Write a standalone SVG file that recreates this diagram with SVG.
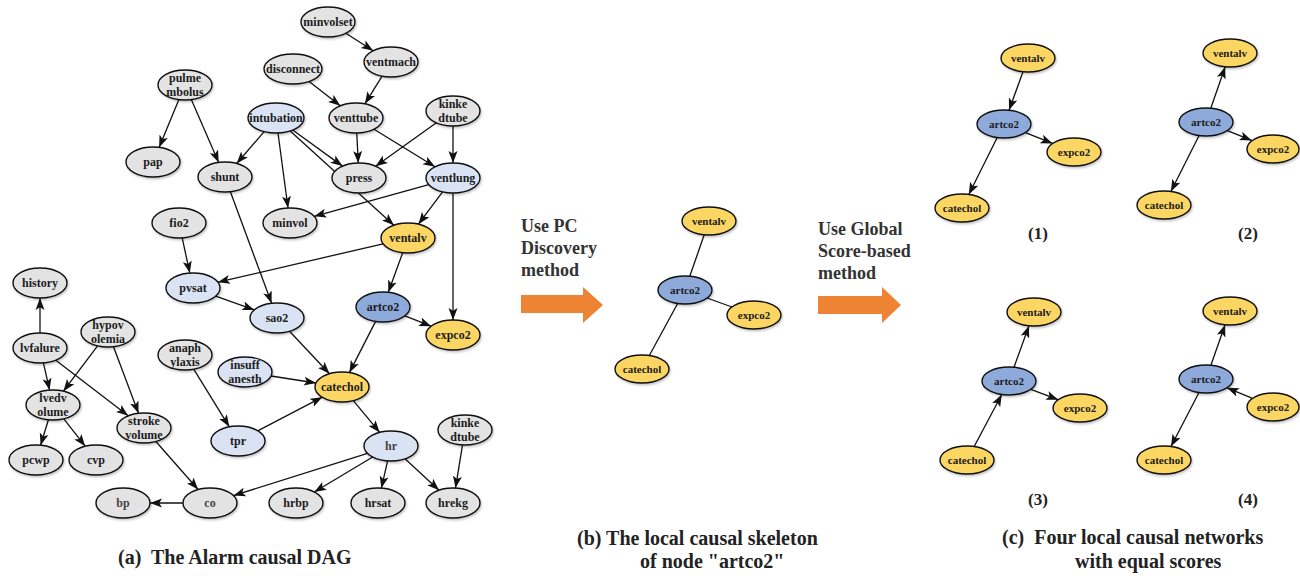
<svg xmlns="http://www.w3.org/2000/svg" width="1300" height="576" viewBox="0 0 1300 576">
<style>
.n ellipse{stroke:#111;stroke-width:1.4;filter:url(#sh)}
.g ellipse{fill:#e3e3e3}
.lb ellipse{fill:#dae3f3}
.y ellipse{fill:#fcd664}
.b ellipse{fill:#8eaadb}
.n text{font-family:"Liberation Serif","Times New Roman",serif;font-weight:bold;font-size:12px;fill:#1c1c1c;text-anchor:middle}
.s text{font-size:11px}
.gt text{fill:#444}
.e line{stroke:#111;stroke-width:1.3;marker-end:url(#arr)}
.u line{stroke:#111;stroke-width:1.3}
.t{font-family:"Liberation Serif","Times New Roman",serif;font-weight:bold;fill:#222}
.cap{font-size:20px}
.meth{font-size:18px;fill:#333}
.num{font-size:17px;text-anchor:middle}
.ar{fill:#ee8433}
</style>
<defs>
<marker id="arr" markerUnits="userSpaceOnUse" markerWidth="12" markerHeight="10" viewBox="0 0 12 10" refX="12" refY="5" orient="auto">
<path d="M0,0.5 L12,5 L0,9.5 L2.8,5 z" fill="#111"/>
</marker>
<filter id="sh" x="-20%" y="-20%" width="150%" height="160%">
<feDropShadow dx="1" dy="1.5" stdDeviation="1" flood-color="#000" flood-opacity="0.25"/>
</filter>
</defs>
<rect width="1300" height="576" fill="#fff"/>

<!-- (a) connectors -->
<g id="connectors-a" class="e">
<line x1="345.8" y1="33.3" x2="373.2" y2="50.7"/>
<line x1="382.1" y1="76.2" x2="364.9" y2="103.8"/>
<line x1="309.1" y1="81.5" x2="340.3" y2="105.8"/>
<line x1="356.75" y1="133" x2="358.25" y2="163"/>
<line x1="374" y1="129.2" x2="435" y2="166.8"/>
<line x1="436.4" y1="122.8" x2="375.6" y2="166.2"/>
<line x1="453" y1="126" x2="453" y2="163"/>
<line x1="264.2" y1="131.6" x2="236.7" y2="163.5"/>
<line x1="292.7" y1="130" x2="342.5" y2="166.1"/>
<line x1="278" y1="133" x2="288" y2="208"/>
<line x1="290.2" y1="130.9" x2="393.9" y2="225.2"/>
<line x1="428.8" y1="184.7" x2="314.2" y2="216.3"/>
<line x1="442.6" y1="191.8" x2="418.4" y2="224.2"/>
<line x1="453" y1="193" x2="453" y2="320"/>
<line x1="178.9" y1="99.6" x2="159.1" y2="147.4"/>
<line x1="191.3" y1="99.6" x2="218.7" y2="162.4"/>
<line x1="230.4" y1="191.7" x2="271.6" y2="303.3"/>
<line x1="182.2" y1="237.9" x2="189.8" y2="273.1"/>
<line x1="383.1" y1="243.8" x2="217.9" y2="282.2"/>
<line x1="402.7" y1="252.7" x2="388.3" y2="292.3"/>
<line x1="215.7" y1="296.1" x2="254.3" y2="309.9"/>
<line x1="404.9" y1="315.8" x2="431.1" y2="326.2"/>
<line x1="375.6" y1="321.4" x2="349.4" y2="372.6"/>
<line x1="289.5" y1="331.3" x2="329.5" y2="373.7"/>
<line x1="271" y1="376" x2="316" y2="383"/>
<line x1="257.7" y1="430.8" x2="322.3" y2="397.2"/>
<line x1="193.7" y1="369.2" x2="229.3" y2="426.8"/>
<line x1="353.3" y1="400.6" x2="379.7" y2="432.4"/>
<line x1="367.5" y1="453.4" x2="233.5" y2="495.6"/>
<line x1="372.7" y1="457" x2="314.3" y2="492"/>
<line x1="387.6" y1="460.9" x2="381.4" y2="488.1"/>
<line x1="405" y1="458.8" x2="439" y2="490.2"/>
<line x1="462.5" y1="444.9" x2="455.5" y2="488.1"/>
<line x1="40" y1="333" x2="40" y2="298"/>
<line x1="43.4" y1="362.9" x2="49.6" y2="390.1"/>
<line x1="55.8" y1="360.2" x2="128.2" y2="415.8"/>
<line x1="97.6" y1="345.8" x2="63.4" y2="391.2"/>
<line x1="113.5" y1="346.7" x2="138.5" y2="413.3"/>
<line x1="48.4" y1="419.8" x2="40.6" y2="445.2"/>
<line x1="63.8" y1="418.8" x2="85.2" y2="446.2"/>
<line x1="155.9" y1="441.5" x2="198.1" y2="489.5"/>
<line x1="183" y1="503" x2="150" y2="503"/>
</g>

<!-- (a) nodes -->
<g id="a-minvolset" class="n g"><ellipse cx="328" cy="22" rx="27" ry="15"/><text x="328" y="26">minvolset</text></g>
<g id="a-ventmach" class="n g"><ellipse cx="391" cy="62" rx="27" ry="15"/><text x="391" y="66">ventmach</text></g>
<g id="a-disconnect" class="n g"><ellipse cx="293" cy="69" rx="29" ry="15"/><text x="293" y="73">disconnect</text></g>
<g id="a-venttube" class="n g"><ellipse cx="356" cy="118" rx="27" ry="15"/><text x="356" y="122">venttube</text></g>
<g id="a-intubation" class="n lb"><ellipse cx="276" cy="118" rx="28" ry="15"/><text x="276" y="122">intubation</text></g>
<g id="a-kinkedtube1" class="n g"><ellipse cx="453" cy="111" rx="27" ry="15"/><text x="453" y="107.5">kinke</text><text x="453" y="121.5">dtube</text></g>
<g id="a-press" class="n g"><ellipse cx="359" cy="178" rx="27" ry="15"/><text x="359" y="182">press</text></g>
<g id="a-ventlung" class="n lb"><ellipse cx="453" cy="178" rx="27" ry="15"/><text x="453" y="182">ventlung</text></g>
<g id="a-minvol" class="n g"><ellipse cx="290" cy="223" rx="27" ry="15"/><text x="290" y="227">minvol</text></g>
<g id="a-ventalv" class="n y"><ellipse cx="408" cy="238" rx="27" ry="15"/><text x="408" y="242">ventalv</text></g>
<g id="a-pulmembolus" class="n g"><ellipse cx="185" cy="85" rx="27" ry="15"/><text x="185" y="81.5">pulme</text><text x="185" y="95.5">mbolus</text></g>
<g id="a-pap" class="n g"><ellipse cx="153" cy="162" rx="27" ry="15"/><text x="153" y="166">pap</text></g>
<g id="a-shunt" class="n g"><ellipse cx="225" cy="177" rx="27" ry="15"/><text x="225" y="181">shunt</text></g>
<g id="a-fio2" class="n g"><ellipse cx="179" cy="223" rx="27" ry="15"/><text x="179" y="227">fio2</text></g>
<g id="a-history" class="n g"><ellipse cx="40" cy="283" rx="27" ry="15"/><text x="40" y="287">history</text></g>
<g id="a-pvsat" class="n lb"><ellipse cx="193" cy="288" rx="27" ry="15"/><text x="193" y="292">pvsat</text></g>
<g id="a-hypovolemia" class="n g"><ellipse cx="108" cy="332" rx="27" ry="15"/><text x="108" y="328.5">hypov</text><text x="108" y="342.5">olemia</text></g>
<g id="a-lvfalure" class="n g"><ellipse cx="40" cy="348" rx="27" ry="15"/><text x="40" y="352">lvfalure</text></g>
<g id="a-anaphylaxis" class="n g"><ellipse cx="185" cy="355" rx="27" ry="15"/><text x="185" y="351.5">anaph</text><text x="185" y="365.5">ylaxis</text></g>
<g id="a-insuffanesth" class="n lb"><ellipse cx="245" cy="372" rx="27" ry="15"/><text x="245" y="368.5">insuff</text><text x="245" y="382.5">anesth</text></g>
<g id="a-lvedvolume" class="n g"><ellipse cx="53" cy="405" rx="27" ry="15"/><text x="53" y="401.5">lvedv</text><text x="53" y="415.5">olume</text></g>
<g id="a-strokevolume" class="n g"><ellipse cx="144" cy="428" rx="27" ry="15"/><text x="144" y="424.5">stroke</text><text x="144" y="438.5">volume</text></g>
<g id="a-tpr" class="n lb"><ellipse cx="238" cy="441" rx="27" ry="15"/><text x="238" y="445">tpr</text></g>
<g id="a-pcwp" class="n g"><ellipse cx="36" cy="460" rx="27" ry="15"/><text x="36" y="464">pcwp</text></g>
<g id="a-cvp" class="n g"><ellipse cx="96" cy="460" rx="27" ry="15"/><text x="96" y="464">cvp</text></g>
<g id="a-bp" class="n g gt"><ellipse cx="123" cy="503" rx="27" ry="15"/><text x="123" y="507">bp</text></g>
<g id="a-co" class="n g gt"><ellipse cx="210" cy="503" rx="27" ry="15"/><text x="210" y="507">co</text></g>
<g id="a-sao2" class="n lb"><ellipse cx="277" cy="318" rx="27" ry="15"/><text x="277" y="322">sao2</text></g>
<g id="a-artco2" class="n b"><ellipse cx="383" cy="307" rx="27" ry="15"/><text x="383" y="311">artco2</text></g>
<g id="a-expco2" class="n y"><ellipse cx="453" cy="335" rx="27" ry="15"/><text x="453" y="339">expco2</text></g>
<g id="a-catechol" class="n y"><ellipse cx="342" cy="387" rx="27" ry="15"/><text x="342" y="391">catechol</text></g>
<g id="a-hr" class="n lb gt"><ellipse cx="391" cy="446" rx="27" ry="15"/><text x="391" y="450">hr</text></g>
<g id="a-kinkedtube2" class="n g"><ellipse cx="465" cy="430" rx="27" ry="15"/><text x="465" y="426.5">kinke</text><text x="465" y="440.5">dtube</text></g>
<g id="a-hrbp" class="n g"><ellipse cx="296" cy="503" rx="27" ry="15"/><text x="296" y="507">hrbp</text></g>
<g id="a-hrsat" class="n g"><ellipse cx="378" cy="503" rx="27" ry="15"/><text x="378" y="507">hrsat</text></g>
<g id="a-hrekg" class="n g"><ellipse cx="453" cy="503" rx="27" ry="15"/><text x="453" y="507">hrekg</text></g>

<!-- (b) -->
<text class="t meth" x="521" y="232">Use PC</text>
<text class="t meth" x="521" y="254">Discovery</text>
<text class="t meth" x="521" y="276">method</text>
<polygon class="ar" points="521,295 583,295 583,287 603,305 583,323 583,313 521,313"/>
<g id="connectors-b" class="u">
<line x1="709" y1="221" x2="685" y2="290"/>
<line x1="685" y1="290" x2="754" y2="315"/>
<line x1="685" y1="290" x2="642" y2="369"/>
</g>
<g id="b-ventalv" class="n s y"><ellipse cx="709" cy="221" rx="27" ry="14"/><text x="709" y="225">ventalv</text></g>
<g id="b-artco2" class="n s b"><ellipse cx="685" cy="290" rx="27" ry="14"/><text x="685" y="294">artco2</text></g>
<g id="b-expco2" class="n s y"><ellipse cx="754" cy="315" rx="27" ry="14"/><text x="754" y="319">expco2</text></g>
<g id="b-catechol" class="n s y"><ellipse cx="642" cy="369" rx="27" ry="14"/><text x="642" y="373">catechol</text></g>

<!-- (c) -->
<text class="t meth" x="818" y="235">Use Global</text>
<text class="t meth" x="818" y="257">Score-based</text>
<text class="t meth" x="818" y="279">method</text>
<polygon class="ar" points="818,296 882,296 882,287 901,305 882,323 882,314 818,314"/>
<g id="connectors-c" class="e">
<line x1="1023" y1="71.8" x2="1009" y2="110.2"/>
<line x1="1025.4" y1="132.6" x2="1052.6" y2="143.4"/>
<line x1="997.2" y1="137.5" x2="968.8" y2="194.5"/>
<line x1="1210.8" y1="108.2" x2="1225.2" y2="66.8"/>
<line x1="1227.3" y1="130.6" x2="1251.7" y2="140.4"/>
<line x1="1199.1" y1="135.5" x2="1170.9" y2="191.5"/>
<line x1="1014" y1="367.2" x2="1029" y2="325.8"/>
<line x1="1030.8" y1="389.3" x2="1058.2" y2="399.7"/>
<line x1="974.2" y1="446.5" x2="1001.8" y2="394.5"/>
<line x1="1210.9" y1="365.2" x2="1225.1" y2="324.8"/>
<line x1="1252" y1="398.2" x2="1227" y2="387.8"/>
<line x1="1199" y1="392.5" x2="1171" y2="446.5"/>
</g>
<g id="c1-ventalv" class="n s y"><ellipse cx="1028" cy="58" rx="27" ry="14"/><text x="1028" y="62">ventalv</text></g>
<g id="c1-artco2" class="n s b"><ellipse cx="1004" cy="124" rx="27" ry="14"/><text x="1004" y="128">artco2</text></g>
<g id="c1-expco2" class="n s y"><ellipse cx="1074" cy="152" rx="27" ry="14"/><text x="1074" y="156">expco2</text></g>
<g id="c1-catechol" class="n s y"><ellipse cx="962" cy="208" rx="27" ry="14"/><text x="962" y="212">catechol</text></g>
<g id="c2-ventalv" class="n s y"><ellipse cx="1230" cy="53" rx="27" ry="14"/><text x="1230" y="57">ventalv</text></g>
<g id="c2-artco2" class="n s b"><ellipse cx="1206" cy="122" rx="27" ry="14"/><text x="1206" y="126">artco2</text></g>
<g id="c2-expco2" class="n s y"><ellipse cx="1273" cy="149" rx="26" ry="14"/><text x="1273" y="153">expco2</text></g>
<g id="c2-catechol" class="n s y"><ellipse cx="1164" cy="205" rx="27" ry="14"/><text x="1164" y="209">catechol</text></g>
<g id="c3-ventalv" class="n s y"><ellipse cx="1034" cy="312" rx="27" ry="14"/><text x="1034" y="316">ventalv</text></g>
<g id="c3-artco2" class="n s b"><ellipse cx="1009" cy="381" rx="27" ry="14"/><text x="1009" y="385">artco2</text></g>
<g id="c3-expco2" class="n s y"><ellipse cx="1080" cy="408" rx="27" ry="14"/><text x="1080" y="412">expco2</text></g>
<g id="c3-catechol" class="n s y"><ellipse cx="967" cy="460" rx="27" ry="14"/><text x="967" y="464">catechol</text></g>
<g id="c4-ventalv" class="n s y"><ellipse cx="1230" cy="311" rx="27" ry="14"/><text x="1230" y="315">ventalv</text></g>
<g id="c4-artco2" class="n s b"><ellipse cx="1206" cy="379" rx="27" ry="14"/><text x="1206" y="383">artco2</text></g>
<g id="c4-expco2" class="n s y"><ellipse cx="1273" cy="407" rx="26" ry="14"/><text x="1273" y="411">expco2</text></g>
<g id="c4-catechol" class="n s y"><ellipse cx="1164" cy="460" rx="27" ry="14"/><text x="1164" y="464">catechol</text></g>
<text class="t num" x="1038" y="239">(1)</text>
<text class="t num" x="1248" y="239">(2)</text>
<text class="t num" x="1038" y="505">(3)</text>
<text class="t num" x="1248" y="505">(4)</text>

<!-- captions -->
<text class="t cap" x="118" y="564" xml:space="preserve">(a)  The Alarm causal DAG</text>
<text class="t cap" x="577" y="545">(b) The local causal skeleton</text>
<text class="t cap" x="640" y="568">of node "artco2"</text>
<text class="t cap" x="1002" y="544" xml:space="preserve">(c)  Four local causal networks</text>
<text class="t cap" x="1075" y="568">with equal scores</text>
</svg>
